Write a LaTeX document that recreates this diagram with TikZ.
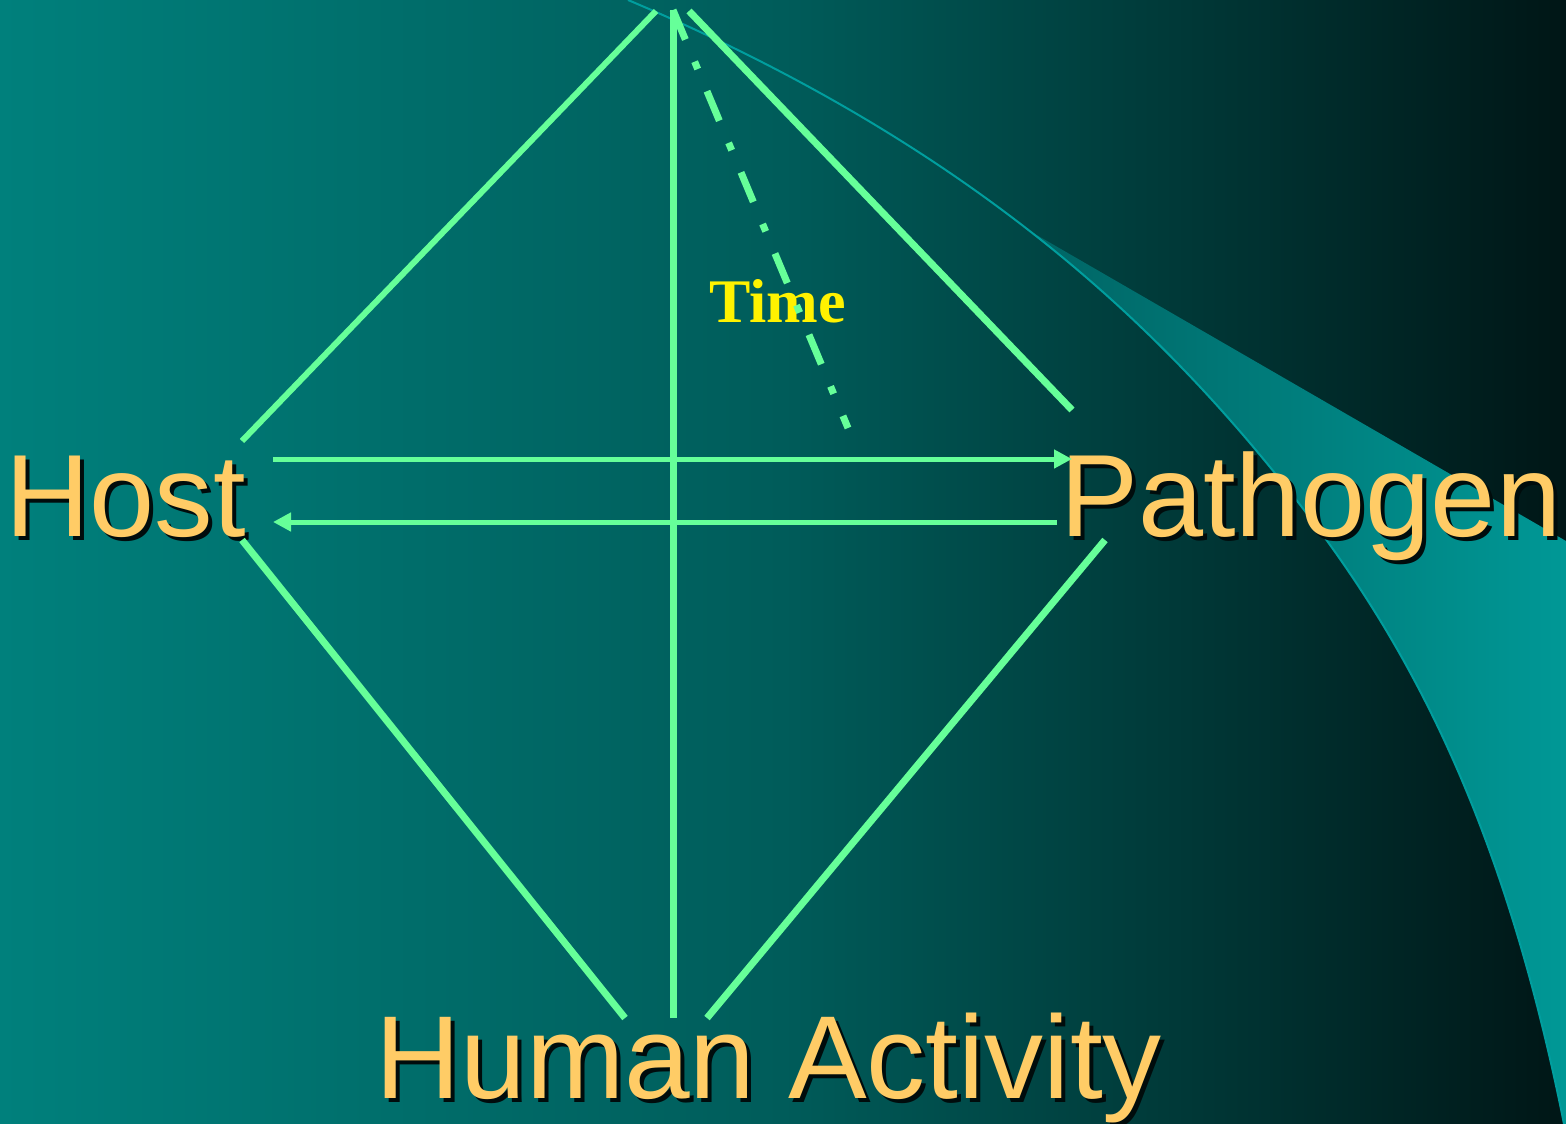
\documentclass[tikz,border=0pt]{standalone}
\usepackage{fontspec}
\setmainfont{Liberation Sans}
\newfontfamily\timesbf{Liberation Serif}
\usetikzlibrary{arrows.meta}
\definecolor{bgL}{RGB}{0,128,124}
\definecolor{bgM}{RGB}{0,92,90}
\definecolor{bgR}{RGB}{0,22,22}
\definecolor{swA}{RGB}{0,88,88}
\definecolor{swB}{RGB}{0,152,150}
\definecolor{swLine}{RGB}{0,158,158}
\definecolor{lg}{RGB}{102,255,153}
\definecolor{gold}{RGB}{255,204,102}
\definecolor{shad}{RGB}{0,12,12}
\newcommand\shtxt[1]{\makebox[0pt][l]{\kern4pt\raisebox{-4pt}{\color{shad}#1}}#1}
\begin{document}
\begin{tikzpicture}[x=1pt,y=-1pt,
  conn/.style={draw=lg,line width=#1},
  conn/.default=6pt,
  lbl/.style={anchor=base west,inner sep=0pt,text=gold,font=\fontsize{117}{120}\selectfont},
  arr/.style={draw=lg,line width=5pt,-{Triangle[length=18pt,width=18pt]}},
]
\useasboundingbox (0,0) rectangle (1566,1124);
\shade[left color=bgL, right color=bgR, middle color=bgM] (0,0) rectangle (1566,1124);
% swoosh
\begin{scope}
\clip (628,0) .. controls (958,139) and (1140,311) .. (1260,455) .. controls (1380,599) and (1494,774) .. (1564,1124) -- (1566,1124) -- (1566,0) -- cycle;
\shade[left color=swA, right color=swB] (900,156) -- (1566,541) -- (1566,1124) -- (900,1124) -- cycle;
\end{scope}
\draw[swLine, line width=2pt] (628,0) .. controls (958,139) and (1140,311) .. (1260,455) .. controls (1380,599) and (1494,774) .. (1564,1124);
% coordinates
\coordinate (apexL) at (656,11);
\coordinate (apexV) at (673,10);
\coordinate (apexR) at (689,11);
\coordinate (hostNE) at (242,441);
\coordinate (pathNW) at (1072,410);
\coordinate (hostSE) at (242,540);
\coordinate (pathSW) at (1105,540);
\coordinate (humL) at (625,1018);
\coordinate (humM) at (673,1018);
\coordinate (humR) at (707,1018);
\coordinate (timeE) at (848,428);
\coordinate (hArrA) at (273,459);
\coordinate (pArrA) at (1072,459);
\coordinate (pArrB) at (1057,522);
\coordinate (hArrB) at (273,522);
% text
\node[lbl] (host) at (5,536) {\shtxt{Host}};
\node[lbl] (pathogen) at (1060,536) {\shtxt{Pathogen}};
\node[lbl, font=\fontsize{118}{120}\selectfont] (human) at (375,1098) {\shtxt{Human Activity}};
\node[anchor=base west, inner sep=0pt, text=yellow, font=\timesbf\bfseries\fontsize{62}{66}\selectfont] (time) at (709,322) {Time};
% connectors
\draw[conn=6pt] (hostNE) -- (apexL);
\draw[conn=7pt] (apexR) -- (pathNW);
\draw[conn=7pt] (humM) -- (apexV);
\draw[conn=7pt] (hostSE) -- (humL);
\draw[conn=7pt] (pathSW) -- (humR);
\draw[arr] (hArrA) -- (pArrA);
\draw[arr] (pArrB) -- (hArrB);
\draw[conn=7pt, dash pattern=on 32pt off 24pt on 8pt off 24pt] (apexV) -- (timeE);
\end{tikzpicture}
\end{document}
